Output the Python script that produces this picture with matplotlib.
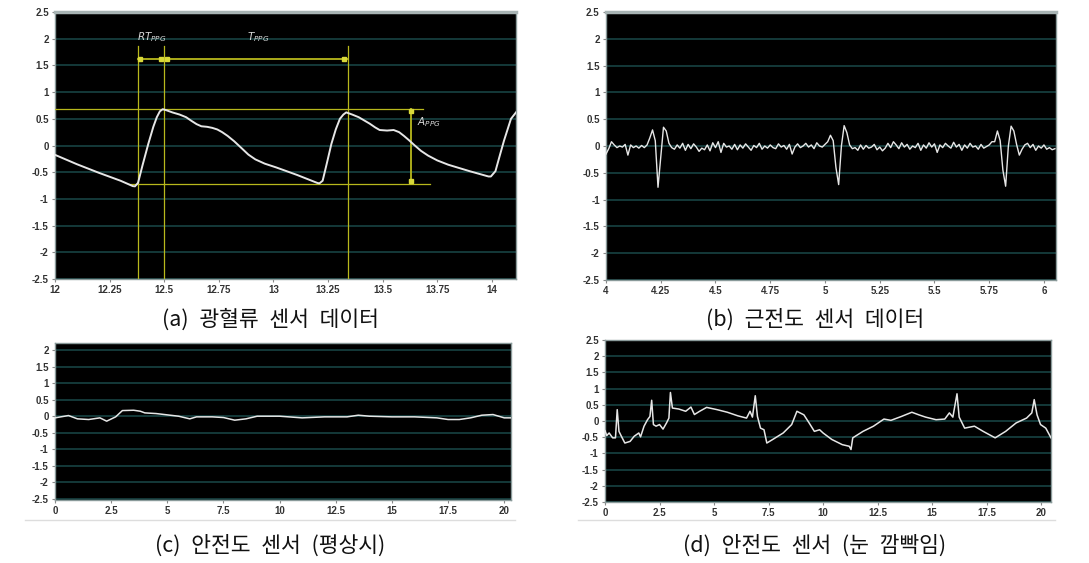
import numpy as np
import matplotlib
matplotlib.use("Agg")
import matplotlib.pyplot as plt

plt.rcParams['font.family'] = ['Noto Sans CJK KR', 'DejaVu Sans']

# ---------------- data ----------------
captions = ["(a)\u2002광혈류\u2002센서\u2002데이터", "(b)\u2002근전도\u2002센서\u2002데이터",
            "(c)\u2002안전도\u2002센서\u2002(평상시)", "(d)\u2002안전도\u2002센서\u2002(눈\u2002깜빡임)"]

ppg_t = [12.0, 12.1, 12.2, 12.3, 12.356, 12.366, 12.38, 12.40, 12.427, 12.45,
         12.466, 12.48, 12.493, 12.51, 12.537, 12.57, 12.60, 12.625, 12.648, 12.67,
         12.696, 12.72, 12.743, 12.765, 12.79, 12.82, 12.854, 12.885, 12.917, 12.96,
         13.012, 13.107, 13.20, 13.21, 13.225, 13.245, 13.265, 13.285, 13.304, 13.32,
         13.333, 13.36, 13.39, 13.415, 13.44, 13.465, 13.486, 13.52, 13.55, 13.575,
         13.597, 13.62, 13.644, 13.675, 13.708, 13.75, 13.80, 13.897, 13.984, 13.995,
         14.016, 14.035, 14.055, 14.087, 14.11]
ppg_v = [-0.175, -0.35, -0.51, -0.66, -0.76, -0.765, -0.70, -0.38, 0.03, 0.35,
         0.53, 0.64, 0.68, 0.66, 0.62, 0.58, 0.53, 0.46, 0.40, 0.36,
         0.35, 0.33, 0.30, 0.25, 0.18, 0.08, -0.05, -0.17, -0.26, -0.34,
         -0.41, -0.55, -0.70, -0.71, -0.66, -0.32, 0.03, 0.30, 0.50, 0.58,
         0.62, 0.58, 0.53, 0.47, 0.41, 0.34, 0.29, 0.28, 0.29, 0.25,
         0.18, 0.10, 0.01, -0.10, -0.19, -0.28, -0.36, -0.48, -0.58, -0.58,
         -0.48, -0.20, 0.09, 0.50, 0.62]

ecg_start, ecg_step = 4.0, 0.0125
ecg_v = [-0.15, -0.05, 0.08, 0.02, -0.03, 0.0, -0.02, 0.03, -0.17, 0.02,
         -0.03, 0.0, -0.04, 0.01, -0.03, 0.02, 0.15, 0.30, 0.10, -0.77,
         -0.20, 0.35, 0.28, 0.05, -0.03, -0.06, 0.02, -0.04, 0.05, -0.08,
         0.03, -0.05, 0.04, -0.02, -0.10, -0.04, -0.07, 0.02, -0.09, 0.06,
         -0.03, 0.08, -0.12, 0.05, -0.02, 0.0, -0.06, 0.03, -0.07, 0.02,
         -0.04, 0.04, -0.02, -0.08, 0.01, -0.03, 0.05, -0.06, 0.0, -0.04,
         0.02, -0.03, -0.05, 0.04, -0.02, 0.01, -0.06, 0.03, -0.15, -0.02,
         0.04, -0.03, 0.0, 0.05, -0.02, 0.02, -0.05, 0.06, 0.0, -0.02,
         0.03, 0.08, 0.20, 0.10, -0.40, -0.72, 0.0, 0.38, 0.25, 0.02,
         -0.05, -0.03, -0.08, 0.02, -0.06, 0.01, -0.04, -0.02, 0.03, -0.07,
         -0.02, -0.09, -0.04, 0.05, -0.03, 0.08, 0.02, -0.05, 0.06, -0.02,
         0.03, -0.06, 0.0, -0.03, 0.05, -0.08, 0.02, -0.04, 0.06, -0.02,
         0.04, -0.12, 0.02, -0.03, 0.05, 0.0, -0.04, 0.07, -0.02, 0.03,
         -0.08, 0.02, -0.04, 0.05, -0.02, 0.0, -0.06, 0.03, -0.04, -0.01,
         0.02, 0.08, 0.08, 0.28, 0.10, -0.45, -0.75, 0.0, 0.37, 0.28,
         0.03, -0.17, -0.06, 0.02, 0.05, -0.03, 0.03, -0.08, 0.0, -0.04,
         0.02, -0.06, -0.03, -0.07, -0.05]

eog_rest_t = [0, 0.6, 1.0, 1.5, 2.0, 2.3, 2.7, 3.0, 3.5, 3.8, 4.0, 4.5, 5.0, 5.5,
              6.0, 6.3, 7.0, 7.5, 8.0, 8.5, 9.0, 10.0, 11.0, 12.0, 13.0, 13.5,
              14.0, 15.0, 16.0, 17.0, 17.5, 18.0, 18.5, 19.0, 19.5, 20.0, 20.4]
eog_rest_v = [-0.05, 0.02, -0.08, -0.10, -0.05, -0.15, -0.02, 0.17, 0.18, 0.15,
              0.10, 0.08, 0.04, 0.0, -0.08, -0.02, -0.02, -0.04, -0.12, -0.08,
              0.0, 0.0, -0.05, -0.02, -0.02, 0.03, 0.0, -0.02, -0.02, -0.05,
              -0.10, -0.10, -0.05, 0.03, 0.05, -0.05, -0.05]

eog_blink_t = [0.0, 0.08, 0.19, 0.35, 0.48, 0.56, 0.64, 0.75, 0.91, 1.15, 1.34,
               1.55, 1.63, 1.79, 1.95, 2.06, 2.14, 2.22, 2.34, 2.5, 2.66, 2.82,
               2.93, 3.0, 3.09, 3.38, 3.7, 3.94, 4.1, 4.34, 4.66, 5.14, 5.61,
               6.09, 6.49, 6.65, 6.76, 6.89, 6.99, 7.13, 7.29, 7.42, 7.69, 8.17,
               8.56, 8.8, 9.12, 9.36, 9.6, 9.84, 10.0, 10.4, 10.88, 11.2, 11.28,
               11.36, 11.83, 12.31, 12.79, 13.11, 13.59, 14.07, 14.39, 14.7,
               15.18, 15.58, 15.79, 15.95, 16.14, 16.24, 16.49, 16.94, 17.34,
               17.89, 18.37, 18.85, 19.33, 19.57, 19.68, 19.81, 19.97, 20.21, 20.45]
eog_blink_v = [-0.3, -0.45, -0.37, -0.52, -0.52, 0.35, -0.32, -0.47, -0.68, -0.63, -0.47,
               -0.37, -0.49, -0.16, 0.04, 0.14, 0.64, -0.11, -0.16, -0.11, -0.25, -0.06,
               0.09, 0.88, 0.40, 0.37, 0.30, 0.43, 0.20, 0.30, 0.42, 0.35, 0.27,
               0.16, 0.09, 0.30, 0.12, 0.78, 0.14, -0.22, -0.27, -0.68, -0.57, -0.37,
               -0.11, 0.30, 0.19, -0.06, -0.32, -0.27, -0.37, -0.57, -0.73, -0.78, -0.88,
               -0.52, -0.32, -0.16, 0.06, 0.02, 0.14, 0.27, 0.19, 0.12,
               0.04, 0.06, 0.25, 0.12, 0.84, 0.12, -0.22, -0.16, -0.32,
               -0.52, -0.32, -0.06, 0.09, 0.25, 0.66, 0.19, -0.11, -0.22, -0.52]

# PPG annotation values
rt_start, rt_peak, next_peak = 12.379, 12.498, 13.339
amp_x, amp_top, amp_bot = 13.628, 0.68, -0.715
arrow_y = 1.62

# ---------------- figure ----------------
fig = plt.figure(figsize=(10.89, 5.63), dpi=100)
W, H = 1089, 563

def add_ax(l, r, t, b):
    return fig.add_axes([l / W, 1 - b / H, (r - l) / W, (b - t) / H])

ax_a = add_ax(55, 516, 12, 279)
ax_b = add_ax(606, 1056, 12, 280)
ax_c = add_ax(55, 511, 343, 500)
ax_d = add_ax(605, 1051, 340, 502)

grid_c = '#163d3d'
line_c = '#e6e6e6'
tick_c = '#333333'
yel = '#b8b81c'

def style(ax, xlim, ylim, xticks, xlabels):
    ax.set_facecolor('black')
    ax.set_xlim(*xlim)
    ax.set_ylim(*ylim)
    yt = [-2.5, -2, -1.5, -1, -0.5, 0, 0.5, 1, 1.5, 2, 2.5]
    yt = [v for v in yt if ylim[0] - 1e-6 <= v <= ylim[1] + 1e-6]
    ax.set_yticks(yt)
    ax.set_yticklabels([('%g' % v) for v in yt])
    ax.set_xticks(xticks)
    ax.set_xticklabels(xlabels)
    for v in yt:
        ax.axhline(v, color=grid_c, lw=1.3, zorder=1)
    ax.tick_params(axis='both', colors='#888888', labelcolor=tick_c,
                   labelsize=7, length=2.5, width=0.8, pad=2)
    for lab in ax.get_xticklabels() + ax.get_yticklabels():
        lab.set_fontfamily('Liberation Sans')
        lab.set_fontweight('bold')
    for s in ax.spines.values():
        s.set_color('#8a9a9a')
        s.set_linewidth(1.0)

style(ax_a, (12, 14.11), (-2.5, 2.5),
      [12, 12.25, 12.5, 12.75, 13, 13.25, 13.5, 13.75, 14],
      ['12', '12.25', '12.5', '12.75', '13', '13.25', '13.5', '13.75', '14'])
style(ax_b, (4, 6.055), (-2.5, 2.5),
      [4, 4.25, 4.5, 4.75, 5, 5.25, 5.5, 5.75, 6],
      ['4', '4.25', '4.5', '4.75', '5', '5.25', '5.5', '5.75', '6'])
style(ax_c, (0, 20.3), (-2.53, 2.21),
      [0, 2.5, 5, 7.5, 10, 12.5, 15, 17.5, 20],
      ['0', '2.5', '5', '7.5', '10', '12.5', '15', '17.5', '20'])
style(ax_d, (0, 20.45), (-2.5, 2.5),
      [0, 2.5, 5, 7.5, 10, 12.5, 15, 17.5, 20],
      ['0', '2.5', '5', '7.5', '10', '12.5', '15', '17.5', '20'])
for ax in (ax_a, ax_b):
    ax.spines['top'].set_color('#a8b4b4')
    ax.spines['top'].set_linewidth(2.5)

# ----- (a) PPG -----
ax_a.plot(ppg_t, ppg_v, color=line_c, lw=1.4, zorder=4)
for xv in (rt_start, rt_peak, next_peak):
    ax_a.plot([xv, xv], [-2.5, 1.87], color=yel, lw=0.9, zorder=3)
ax_a.plot([12.0, 13.684], [amp_top, amp_top], color=yel, lw=0.9, zorder=3)
ax_a.plot([12.34, 13.715], [amp_bot, amp_bot], color=yel, lw=0.9, zorder=3)
ax_a.plot([rt_start, next_peak], [arrow_y, arrow_y], color=yel, lw=1.3, zorder=3)
ax_a.plot([12.387, 12.487, 12.512, 13.325], [arrow_y] * 4, ls='none',
          marker='s', ms=2.5, color='#d8d83a', zorder=5)
ax_a.plot([amp_x, amp_x], [amp_top, amp_bot], color=yel, lw=1.3, zorder=3)
ax_a.plot([amp_x, amp_x], [0.65, -0.66], ls='none', marker='s', ms=2.5,
          color='#d8d83a', zorder=5)
ax_a.text(12.443, 2.03, r'$RT_{PPG}$', color='#d8d8d8', fontsize=7.5,
          ha='center', va='center', zorder=6)
ax_a.text(12.93, 2.03, r'$T_{PPG}$', color='#d8d8d8', fontsize=7.5,
          ha='center', va='center', zorder=6)
ax_a.text(13.712, 0.43, r'$A_{PPG}$', color='#d8d8d8', fontsize=7.5,
          ha='center', va='center', zorder=6)

# ----- (b) ECG -----
ecg_t = ecg_start + ecg_step * np.arange(len(ecg_v))
ax_b.plot(ecg_t, ecg_v, color=line_c, lw=1.0, zorder=4)

# ----- (c), (d) EOG -----
ax_c.plot(eog_rest_t, eog_rest_v, color=line_c, lw=1.1, zorder=4)
ax_d.plot(eog_blink_t, eog_blink_v, color=line_c, lw=1.1, zorder=4)

# captions
cap_pos = [(270, 320), (815, 320), (270, 546), (815, 546)]
for (cx, cy), cap in zip(cap_pos, captions):
    fig.text(cx / W, 1 - cy / H, cap, ha='center', va='center',
             fontsize=15.5, color='#111111')

# faint frame lines under lower panels
fig.add_artist(plt.Line2D([25 / W, 515 / W], [1 - 520 / H] * 2,
                          color='#dddddd', lw=1.0))
fig.add_artist(plt.Line2D([578 / W, 1055 / W], [1 - 520 / H] * 2,
                          color='#dddddd', lw=1.0))

fig.savefig('out.png', dpi=100, facecolor='white')
